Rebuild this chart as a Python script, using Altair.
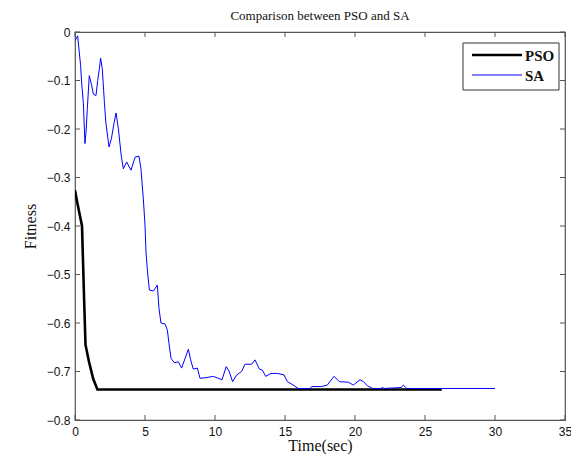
import altair as alt
import pandas as pd

pso_x = [0, 0.15, 0.5, 0.55, 0.65, 0.75, 1.0, 1.3, 1.6, 26.2]
pso_y = [-0.326, -0.35, -0.40, -0.45, -0.55, -0.645, -0.68, -0.715, -0.737, -0.737]

sa_x = [0, 0.19, 0.4, 0.48, 0.6, 0.71, 0.79, 0.88, 1.02, 1.19, 1.31, 1.5, 1.62, 1.74, 1.83,
        1.95, 2.1, 2.2, 2.43, 2.6, 2.8, 2.93, 3.1, 3.3, 3.45, 3.69, 4.0, 4.29, 4.57, 4.71,
        4.88, 5.0, 5.07, 5.17, 5.31, 5.6, 5.88, 6.0, 6.14, 6.43, 6.6, 6.71, 6.86, 7.1, 7.38,
        7.62, 7.86, 8.1, 8.26, 8.45, 8.74, 8.93, 9.29, 9.88, 10.5, 10.8, 11.0, 11.26, 11.55,
        11.9, 12.14, 12.62, 12.86, 13.17, 13.38, 13.62, 14.0, 14.48, 14.93, 15.17, 15.48,
        15.95, 16.8, 16.9, 17.6, 18.02, 18.5, 18.88, 19.52, 19.88, 20.36, 20.6, 20.88, 21.26,
        21.9, 21.96, 22.05, 23.3, 23.45, 23.7, 30]
sa_y = [-0.018, -0.008, -0.069, -0.107, -0.148, -0.23, -0.206, -0.158, -0.09, -0.11, -0.128,
        -0.131, -0.1, -0.076, -0.054, -0.076, -0.145, -0.186, -0.237, -0.22, -0.186, -0.167,
        -0.2, -0.254, -0.282, -0.268, -0.285, -0.258, -0.256, -0.282, -0.344, -0.398, -0.453,
        -0.491, -0.532, -0.534, -0.522, -0.57, -0.60, -0.602, -0.615, -0.642, -0.673, -0.682,
        -0.68, -0.693, -0.673, -0.654, -0.676, -0.695, -0.693, -0.714, -0.713, -0.71, -0.717,
        -0.69, -0.699, -0.721, -0.707, -0.70, -0.685, -0.685, -0.676, -0.695, -0.697, -0.71,
        -0.704, -0.704, -0.707, -0.721, -0.726, -0.735, -0.735, -0.731, -0.731, -0.728, -0.71,
        -0.721, -0.722, -0.728, -0.717, -0.721, -0.729, -0.735, -0.735, -0.732, -0.735,
        -0.733, -0.728, -0.735, -0.735]

series = ["PSO", "SA"]
x_ticks = [0, 5, 10, 15, 20, 25, 30, 35]
y_ticks = [0, -0.1, -0.2, -0.3, -0.4, -0.5, -0.6, -0.7, -0.8]

W, H = 490, 388

df = pd.concat([
    pd.DataFrame({"t": pso_x, "f": pso_y, "alg": "PSO"}),
    pd.DataFrame({"t": sa_x, "f": sa_y, "alg": "SA"}),
])
xt = pd.DataFrame({"v": x_ticks})
yt = pd.DataFrame({"v": y_ticks})
lg = pd.DataFrame({"alg": series})

xs = alt.Scale(domain=[0, 35], nice=False, zero=False)
ys = alt.Scale(domain=[-0.8, 0], nice=False, zero=False)
cs = alt.Scale(domain=series, range=["#000000", "#0000ff"])
ws = alt.Scale(domain=series, range=[2.6, 1.0])

lines = alt.Chart(df).mark_line(clip=True).encode(
    x=alt.X("t:Q", scale=xs, title="Time(sec)",
            axis=alt.Axis(values=x_ticks, format="d", grid=False, ticks=False, domain=False,
                          labelPadding=6, labelFlush=False)),
    y=alt.Y("f:Q", scale=ys, title="Fitness",
            axis=alt.Axis(values=y_ticks, format="~g", grid=False, ticks=False, domain=False,
                          labelPadding=5, labelFlush=False)),
    color=alt.Color("alg:N", scale=cs, legend=None),
    strokeWidth=alt.StrokeWidth("alg:N", scale=ws, legend=None),
)

tc = "#555555"
xb = alt.Chart(xt).mark_rule(color=tc).encode(x=alt.X("v:Q", scale=xs), y=alt.value(H), y2=alt.value(H - 5))
xtp = alt.Chart(xt).mark_rule(color=tc).encode(x=alt.X("v:Q", scale=xs), y=alt.value(0), y2=alt.value(5))
yl = alt.Chart(yt).mark_rule(color=tc).encode(y=alt.Y("v:Q", scale=ys), x=alt.value(0), x2=alt.value(5))
yr = alt.Chart(yt).mark_rule(color=tc).encode(y=alt.Y("v:Q", scale=ys), x=alt.value(W), x2=alt.value(W - 5))

# legend box (drawn in pixel space of the plot area)
box = alt.Chart(lg).transform_filter(alt.datum.alg == "PSO").mark_rect(
    fill="white", stroke="#333333", strokeWidth=1
).encode(x=alt.value(388), x2=alt.value(484), y=alt.value(11), y2=alt.value(58))

leg_layers = []
for i, name in enumerate(series):
    yy = 23 + 20 * i
    base = alt.Chart(lg).transform_filter(alt.datum.alg == name)
    leg_layers.append(base.mark_rule().encode(
        x=alt.value(397), x2=alt.value(447), y=alt.value(yy),
        color=alt.Color("alg:N", scale=cs, legend=None),
        strokeWidth=alt.StrokeWidth("alg:N", scale=ws, legend=None)))
    leg_layers.append(base.mark_text(
        align="left", baseline="middle", font="Liberation Serif", fontSize=15,
        fontWeight="bold", color="#111111"
    ).encode(x=alt.value(450), y=alt.value(yy + 1), text="alg:N"))

chart = alt.layer(xb, xtp, yl, yr, lines, box, *leg_layers).properties(
    width=W, height=H,
    title=alt.Title("Comparison between PSO and SA", font="Liberation Serif", fontSize=13,
                    fontWeight="normal", color="#111111", offset=3),
    autosize=alt.AutoSizeParams(type="none"),
    padding={"left": 67, "top": 24, "right": 6, "bottom": 37},
).configure_view(
    stroke="#555555", strokeWidth=1.2
).configure_axis(
    labelFont="Liberation Sans", labelFontSize=12, labelColor="#111111",
    titleFont="Liberation Serif", titleFontSize=16, titleFontWeight="normal", titleColor="#111111",
).configure_axisX(titlePadding=0).configure_axisY(titlePadding=8)

chart.save("out.html", embed_options={"renderer": "svg", "actions": False})
